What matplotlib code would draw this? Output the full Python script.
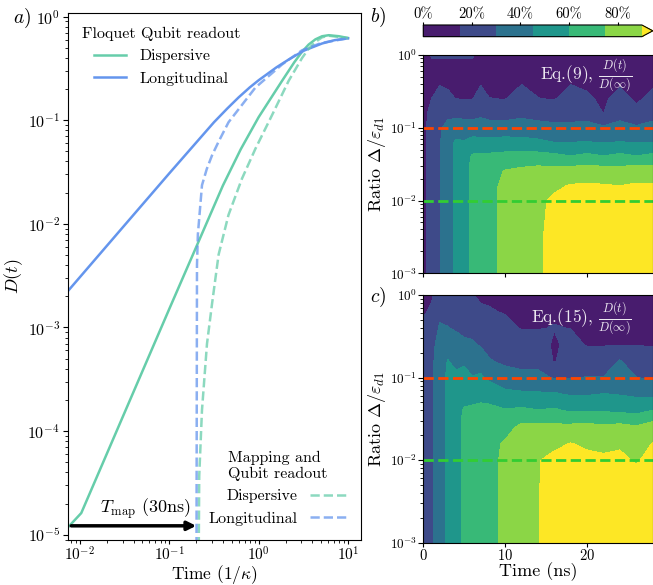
import matplotlib
matplotlib.use("Agg")
import matplotlib.pyplot as plt
import numpy as np

plt.rcParams['font.family'] = ['cmr10', 'DejaVu Serif']
plt.rcParams['mathtext.fontset'] = 'cm'
plt.rcParams['axes.formatter.use_mathtext'] = True
plt.rcParams['axes.unicode_minus'] = False

# ---- panel a: D(t) curves, time in units of 1/kappa ----
t_disp = [0.00735, 0.01035, 0.1, 0.213, 0.398, 0.631, 1.0, 1.83, 2.51, 3.06, 3.63, 4.32, 5.13, 6.08, 7.94, 10.0]
D_disp = [1.18e-5, 1.62e-5, 1.51e-3, 6.76e-3, 0.0234, 0.0525, 0.107, 0.240, 0.363, 0.457, 0.537, 0.603, 0.646, 0.661, 0.646, 0.621]

t_long = [0.00735, 0.0316, 0.1, 0.316, 0.447, 0.597, 0.794, 1.0, 1.585, 2.17, 3.19, 5.13, 7.08, 10.0]
D_long = [2.25e-3, 9.7e-3, 0.0307, 0.0955, 0.130, 0.166, 0.207, 0.243, 0.324, 0.385, 0.468, 0.550, 0.592, 0.617]

t_disp_map = [0.2, 0.2163, 0.2323, 0.2642, 0.3006, 0.3565, 0.460, 0.652, 0.920, 1.413, 2.168, 3.06, 3.63, 4.32, 5.13, 6.08, 10.0]
D_disp_map = [1e-9, 3.7e-5, 1.6e-4, 6.95e-4, 1.68e-3, 5.05e-3, 0.0122, 0.0274, 0.053, 0.112, 0.240, 0.398, 0.490, 0.569, 0.631, 0.653, 0.621]

t_long_map = [0.2, 0.2042, 0.2089, 0.2323, 0.263, 0.3006, 0.355, 0.460, 0.920, 1.83, 3.06, 5.01, 10.0]
D_long_map = [1e-7, 4e-3, 7.9e-3, 0.0236, 0.0339, 0.0457, 0.0617, 0.0955, 0.2065, 0.345, 0.473, 0.556, 0.617]

T_map = 0.2

# ---- panels b, c: D(t)/D(inf) in percent on a (time, ratio) grid ----
time_ns = [0, 1, 2, 3, 4, 5, 6, 7, 8, 10, 12, 14, 16, 18, 20, 22, 24, 26, 28]
ratio = [0.001, 0.00316, 0.01, 0.0158, 0.0251, 0.0398, 0.0631, 0.1, 0.158, 0.251, 0.398, 0.631, 1.0]

# one row per time value, listed from the lowest ratio up
eq9_cols = [
    [10, 10, 10, 10, 10, 10, 10, 10, 10, 10, 9, 9, 8],
    [22, 22, 22, 22, 22, 22, 22, 22, 20, 15, 13, 12, 16],
    [29, 29, 29, 29, 29, 29, 29, 28, 24, 19, 14.5, 12, 16],
    [39, 39, 39, 39, 39, 39, 39, 34.5, 25.7, 17.1, 13.5, 12, 16],
    [48, 48, 48, 48, 48, 48, 47, 36.2, 25.7, 14.8, 13, 12, 16],
    [55, 55, 55, 55, 55, 54, 46, 35.7, 25, 14.5, 13, 12, 16],
    [63, 63, 63, 63, 63, 62, 49.4, 36, 23.8, 14.5, 13, 12, 16],
    [66, 66, 66, 66, 65, 63, 48.8, 36, 26.7, 20, 14.5, 12, 12],
    [70, 70, 70, 70, 69, 63, 48.8, 35.2, 24.4, 15.2, 13, 11, 10],
    [80, 80, 80, 79, 76, 64.2, 49.7, 35, 23.7, 14.5, 13, 11, 10],
    [84, 84, 84, 83, 78, 65.5, 49.2, 35.2, 26.5, 20.6, 14.8, 12, 10],
    [88, 88, 88, 86, 80, 65, 47.5, 34.4, 24.1, 15.2, 13, 11, 9],
    [94, 94, 91.7, 87.9, 79.3, 63.5, 45, 33.5, 21.9, 14.3, 12.5, 11, 9],
    [95, 95, 95, 91, 81, 61, 45, 32, 26, 20.4, 14.8, 12, 10],
    [96, 96, 95, 91.6, 81.8, 63.5, 45.5, 33.5, 24.3, 16.2, 13.5, 11, 9],
    [96, 96, 95, 91, 81, 61, 44.5, 32, 14.8, 13.5, 12, 10.5, 9],
    [97, 97, 95, 90.2, 80.2, 63.5, 45.5, 33.5, 25.2, 18.4, 13.8, 11, 9],
    [97, 97, 95, 91.6, 82.1, 61, 44.5, 32, 16.9, 13.6, 12, 10.5, 9],
    [97, 97, 95, 91.6, 81.8, 63.5, 45, 33.5, 25, 17.3, 13.7, 11, 9],
]

eq15_cols = [
    [20, 20, 20, 20, 20, 20, 20, 20, 20, 20, 17, 13.5, 11],
    [28, 28, 28, 28, 28, 28, 28, 28, 27, 26, 22, 17, 13],
    [38, 38, 38, 38, 38, 38, 38, 38, 37, 35, 31.5, 26, 22],
    [48, 48, 48, 48, 48, 48, 48, 48, 45.8, 37.9, 30.5, 25, 20],
    [57, 57, 57, 57, 57, 57, 56, 48, 40.5, 34.5, 28.5, 23, 19],
    [61.5, 61.5, 61.5, 61.5, 61.5, 61, 55.5, 49.5, 42.5, 32.5, 26, 21, 17],
    [65, 65, 65, 65, 64.5, 62, 55, 45.5, 38.3, 31.7, 25, 20, 16],
    [68, 68, 68, 68, 67, 63, 55.7, 47.1, 37.5, 28.6, 22.9, 17.3, 12],
    [72, 72, 72, 71.5, 69, 63.7, 53, 42.2, 31.1, 25.7, 21, 16.2, 12],
    [77, 77, 77, 76.3, 70.3, 61, 48.3, 35.2, 27.3, 22.8, 18.4, 14, 12],
    [84, 84, 84, 82, 78, 62.5, 47, 33.4, 25.5, 19.5, 14.4, 12, 10],
    [89.5, 89.5, 89.5, 86, 78, 60.5, 46.4, 33.3, 25.5, 19.5, 14.4, 12, 10],
    [95, 95, 92.5, 87.5, 77.5, 61.8, 46.5, 29, 14, 13.5, 15.5, 13, 11],
    [96, 96, 95, 90.5, 78, 58.5, 43.5, 29.4, 23.7, 17.9, 14.8, 12, 10],
    [96, 96, 93, 87.7, 78.6, 58.5, 43.5, 30.5, 20.6, 14.3, 13, 11.5, 10],
    [97, 97, 92, 86.4, 77.3, 58.5, 45.5, 30.5, 20.6, 14.3, 13, 11.5, 10],
    [97, 97, 93, 87.7, 78.6, 57, 44, 38.5, 31, 14.5, 13, 11.5, 10],
    [97, 97, 88.5, 84, 76.5, 55, 42, 30.3, 21.4, 14.5, 13, 11.5, 10],
    [97, 97, 95, 90.5, 80.9, 60.5, 39, 27.9, 19.3, 14.3, 13, 11.5, 10],
]

levels = [0, 15, 30, 45, 60, 75, 90]
cbar_ticks = [0, 20, 40, 60, 80]
cbar_labels = ['0%', '20%', '40%', '60%', '80%']

c_disp = '#66cdaa'
c_long = '#6495ed'

fig = plt.figure(figsize=(6.53, 5.85), dpi=100)
ax_a = fig.add_axes([0.1037, 0.0769, 0.4492, 0.9014])
ax_b = fig.add_axes([0.6482, 0.5328, 0.3513, 0.3732])
ax_c = fig.add_axes([0.6482, 0.0723, 0.3513, 0.4234])
cax = fig.add_axes([0.6482, 0.9373, 0.3515, 0.020])

# panel a
l1, = ax_a.plot(t_disp, D_disp, color=c_disp, lw=1.8, label='Dispersive')
l2, = ax_a.plot(t_long, D_long, color=c_long, lw=1.8, label='Longitudinal')
l3, = ax_a.plot(t_disp_map, D_disp_map, color=c_disp, lw=1.8, ls='--', alpha=0.75, label='Dispersive')
l4, = ax_a.plot(t_long_map, D_long_map, color=c_long, lw=1.8, ls='--', alpha=0.75, label='Longitudinal')
ax_a.set_xscale('log')
ax_a.set_yscale('log')
ax_a.set_xlim(0.0073, 14)
ax_a.set_ylim(8.9e-6, 1.09)
ax_a.tick_params(axis='y', labelsize=11.5, pad=2)
ax_a.tick_params(axis='x', labelsize=11, pad=1, length=3)
ax_a.set_xlabel(r'Time $(1/\kappa)$', fontsize=12.5)
ax_a.xaxis.set_label_coords(0.5, -0.044)
ax_a.set_ylabel(r'$D(t)$', fontsize=13, labelpad=2)

ax_a.annotate('', xy=(T_map, 1.22e-5), xytext=(0.0080, 1.22e-5),
              arrowprops=dict(arrowstyle='-|>', color='k', lw=2.5, mutation_scale=13,
                              shrinkA=0, shrinkB=0))
ax_a.text(0.054, 1.8e-5, r'$T_{\rm map}$ (30ns)', fontsize=13, ha='center', va='center')

leg1 = ax_a.legend(handles=[l1, l2], loc='upper left', frameon=False, fontsize=11.5,
                   title='Floquet Qubit readout', title_fontsize=11.5)
ax_a.add_artist(leg1)
leg2 = ax_a.legend(handles=[l3, l4], loc='lower right', frameon=False, fontsize=11.5,
                   title='Mapping and\nQubit readout', title_fontsize=11.5, markerfirst=False,
                   handlelength=2.3)
leg2.get_title().set_multialignment('left')

# panels b and c
for ax, cols, eq in [(ax_b, eq9_cols, 'Eq.(9), '), (ax_c, eq15_cols, 'Eq.(15), ')]:
    Z = np.array(cols).T
    cs = ax.contourf(time_ns, ratio, Z, levels=levels, cmap='viridis', extend='max',
                     vmin=0, vmax=100)
    ax.axhline(0.1, color='orangered', ls='--', lw=2)
    ax.axhline(0.01, color='limegreen', ls='--', lw=2)
    ax.set_yscale('log')
    ax.set_xlim(0, 28)
    ax.set_ylim(1e-3, 1)
    ax.set_xticks([0, 10, 20])
    ax.tick_params(axis='y', labelsize=9.5, pad=1)
    ax.tick_params(axis='x', labelsize=10.5, pad=1, length=3)
    ax.set_ylabel(r'Ratio $\Delta/\varepsilon_{d1}$', fontsize=13, labelpad=1)
    ax.text(0.91, 0.905, eq + r'$\frac{D(t)}{D(\infty)}$', transform=ax.transAxes,
            color='white', alpha=0.9, fontsize=12.5, ha='right', va='center')
    if ax is ax_b:
        cs_b = cs

ax_b.tick_params(axis='x', labelbottom=False)
ax_c.set_xlabel('Time (ns)', fontsize=13)
ax_c.xaxis.set_label_coords(0.5, -0.08)

cb = fig.colorbar(cs_b, cax=cax, orientation='horizontal', ticks=cbar_ticks)
cax.xaxis.set_ticks_position('top')
cax.set_xticklabels(cbar_labels)
cax.tick_params(labelsize=10.5, length=2, pad=1)

fig.text(0.034, 0.969, r'$a)$', fontsize=14, ha='center', va='center')
fig.text(0.579, 0.971, r'$b)$', fontsize=14, ha='center', va='center')
fig.text(0.579, 0.492, r'$c)$', fontsize=14, ha='center', va='center')

fig.savefig('out.png', dpi=100)
